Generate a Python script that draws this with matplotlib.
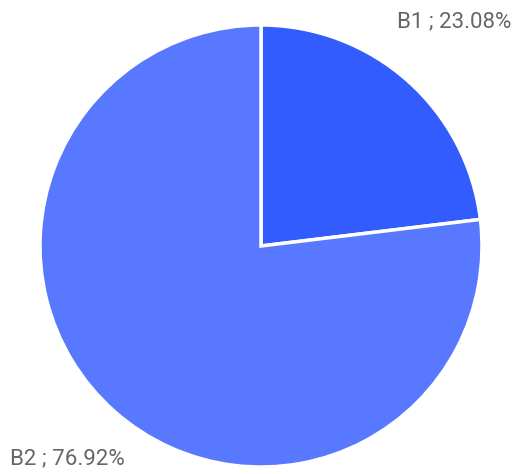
import matplotlib.pyplot as plt

labels = ["B1", "B2"]
shares = [23.08, 76.92]
colors = ["#335cff", "#5778ff"]

W, H = 513, 474
fig = plt.figure(figsize=(W / 100, H / 100), dpi=100)
ax = fig.add_axes([0, 0, 1, 1])

# pie drawn in pixel space (origin bottom-left), clockwise from 12 o'clock
ax.pie(shares, colors=colors, startangle=90, counterclock=False,
       center=(261, H - 246), radius=221, frame=True,
       wedgeprops=dict(edgecolor="white", linewidth=2.5))
ax.set_xlim(0, W)
ax.set_ylim(0, H)
ax.set_aspect("equal")
ax.axis("off")

txt = dict(family="Roboto", fontsize=16, color="#666666", va="center")
ax.text(397, H - 22, "%s ; %.2f%%" % (labels[0], shares[0]), ha="left", **txt)
ax.text(10, H - 459, "%s ; %.2f%%" % (labels[1], shares[1]), ha="left", **txt)

fig.savefig("out.png", dpi=100)
